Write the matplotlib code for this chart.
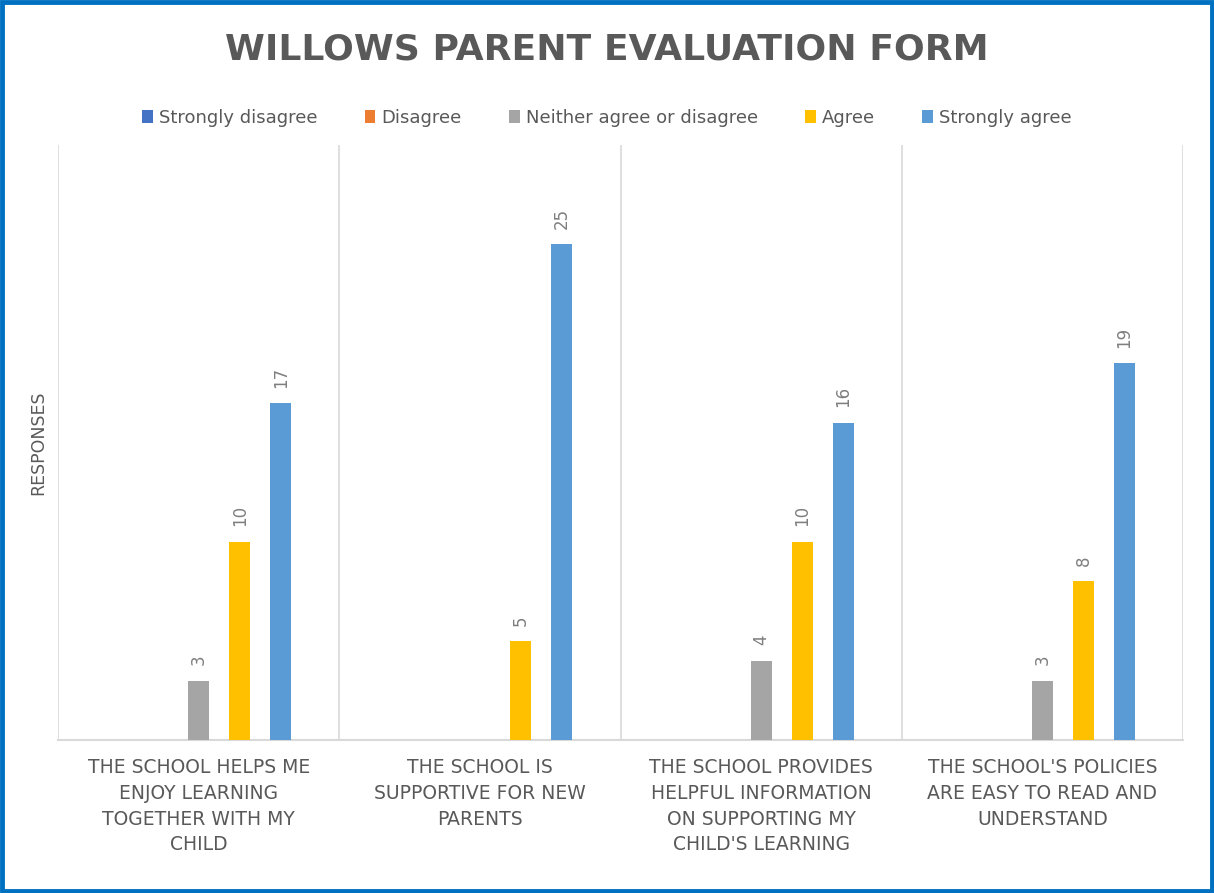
import numpy as np
import matplotlib
matplotlib.use("Agg")
import matplotlib.pyplot as plt
from matplotlib.patches import Rectangle

categories = [
    "THE SCHOOL HELPS ME\nENJOY LEARNING\nTOGETHER WITH MY\nCHILD",
    "THE SCHOOL IS\nSUPPORTIVE FOR NEW\nPARENTS",
    "THE SCHOOL PROVIDES\nHELPFUL INFORMATION\nON SUPPORTING MY\nCHILD'S LEARNING",
    "THE SCHOOL'S POLICIES\nARE EASY TO READ AND\nUNDERSTAND",
]
series_names = ["Strongly disagree", "Disagree", "Neither agree or disagree", "Agree", "Strongly agree"]
strongly_disagree = [0, 0, 0, 0]
disagree = [0, 0, 0, 0]
neither = [3, 0, 4, 3]
agree = [10, 5, 10, 8]
strongly_agree = [17, 25, 16, 19]
colors = ["#4472C4", "#ED7D31", "#A5A5A5", "#FFC000", "#5B9BD5"]

values = [strongly_disagree, disagree, neither, agree, strongly_agree]
text_color = "#595959"

fig = plt.figure(figsize=(12.14, 8.93), dpi=100)
ax = fig.add_axes([58/1214, 1-740/893, (1183-58)/1214, (740-145)/893])

x = np.arange(len(categories))
step = 41/281
width = 21/281
for i, (name, vals, c) in enumerate(zip(series_names, values, colors)):
    pos = x + (i - 2) * step
    bars = ax.bar(pos, vals, width=width, color=c, label=name, zorder=3)
    for b, v in zip(bars, vals):
        if v > 0:
            ax.annotate(str(v), (b.get_x() + b.get_width()/2, v), xytext=(0, 11),
                        textcoords="offset points", rotation=90, ha="center", va="bottom",
                        fontsize=12, color="#7F7F7F")

ax.set_xlim(-0.5, len(categories) - 0.5)
ax.set_ylim(0, 30)
ax.set_yticks([])
ax.set_xticks(x)
ax.set_xticklabels(categories, fontsize=13.5, color=text_color, linespacing=1.45)
ax.tick_params(axis="x", length=0, pad=13)
ax.set_xticks(np.arange(-0.5, len(categories), 1), minor=True)
ax.tick_params(axis="x", which="minor", length=0)
ax.grid(which="minor", axis="x", color="#D9D9D9", linewidth=1.2, zorder=0)
for s in ["top", "right", "left"]:
    ax.spines[s].set_visible(False)
ax.spines["bottom"].set_color("#D9D9D9")
ax.spines["bottom"].set_linewidth(1.5)

ax.set_ylabel("RESPONSES", fontsize=12.5, color=text_color, labelpad=8)

fig.text(0.5, 1-50/893, "WILLOWS PARENT EVALUATION FORM", ha="center", va="center",
         fontsize=26, fontweight="bold", color=text_color)

leg = fig.legend(loc="center", bbox_to_anchor=(0.5, 1-118/893), ncol=5, frameon=False,
                 fontsize=13, handlelength=0.6, handleheight=0.7, handletextpad=0.35,
                 columnspacing=2.6)
for t in leg.get_texts():
    t.set_color(text_color)

fig.patches.append(Rectangle((0.0015, 0.002), 0.997, 0.996, transform=fig.transFigure,
                             fill=False, edgecolor="#0070C0", linewidth=3.5, clip_on=False))

fig.savefig("out.png", dpi=100, facecolor="white")
